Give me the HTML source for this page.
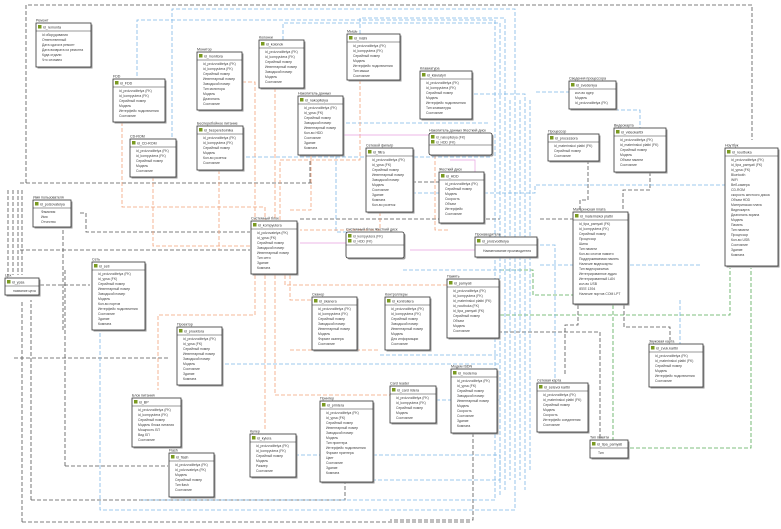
<!DOCTYPE html>
<html><head><meta charset="utf-8"><style>
html,body{margin:0;padding:0;background:#fff;}
svg{display:block;font-family:"Liberation Sans","DejaVu Sans",sans-serif;}
.b{fill:#fff;stroke:#333;stroke-width:0.8;}
.s{fill:#999;}
.h{stroke:#333;stroke-width:0.6;}
.t{font-size:3.6px;fill:#333;}
.f{font-size:3.4px;fill:#444;}
.k{fill:#7a9a20;}
.bk{stroke:#555;stroke-width:0.8;stroke-dasharray:4 2;fill:none;}
.bl{stroke:#7fb8e6;stroke-width:0.8;stroke-dasharray:4 2;fill:none;}
.or{stroke:#f2a27a;stroke-width:0.8;stroke-dasharray:4 2;fill:none;}
.gr{stroke:#55aa55;stroke-width:0.8;stroke-dasharray:4 2;fill:none;}
.pk{stroke:#e8a0e0;stroke-width:0.7;fill:none;}
</style></head><body>
<svg width="781" height="529" viewBox="0 0 781 529" xmlns="http://www.w3.org/2000/svg">
<!-- connectors -->
<path class="bk" d="M26 183 V5 H752 V140"/>
<path class="bk" d="M20 183 H312"/>
<path class="bk" d="M8 190 V275 M13 190 V275 M18 190 V275 M22 190 V275"/>
<path class="bk" d="M22 522 V300 M22 522 H470"/>
<path class="bk" d="M31 500 V300 M31 500 H345 V482"/>
<path class="bk" d="M14 358 H170"/>
<path class="bk" d="M40 285 H90"/>
<path class="bk" d="M65 466 V270 M65 466 H168"/>
<path class="bk" d="M80 213 H86 V232 H250"/>
<path class="bk" d="M20 250 H250"/>
<path class="bk" d="M63 230 V330"/>
<path class="bk" d="M310 183 V160"/>
<path class="bk" d="M300 219 H500"/>
<path class="bk" d="M400 182 H475"/>
<path class="bk" d="M540 219 H573"/>
<path class="bk" d="M474 332 H600 V440"/>
<path class="bk" d="M578 305 V325 H565 V375"/>
<path class="bk" d="M624 305 V327 H670 V340"/>
<path class="bk" d="M588 160 V200 H580 V210"/>
<path class="bk" d="M650 172 V190 H623 V210"/>
<path class="bk" d="M473 433 V520 H390"/>
<path class="gr" d="M613 305 V440"/>
<path class="gr" d="M630 448 H751 V268"/>
<path class="gr" d="M500 270 H533 V295 H573"/>
<path class="gr" d="M500 315 H730 V268"/>
<path class="bl" d="M137 76 V20 H495 V500 H140"/>
<path class="bl" d="M172 137 V9 H515 V510 H100 V320"/>
<path class="bl" d="M283 40 V23 H500 V495"/>
<path class="bl" d="M360 34 V18 H505 V490"/>
<path class="bl" d="M240 157 H490"/>
<path class="bl" d="M420 94 H525 V490"/>
<path class="bl" d="M510 100 V480 M520 100 V480 M530 100 V470"/>
<path class="bl" d="M340 123 H490"/>
<path class="bl" d="M406 193 H535 V185 H725"/>
<path class="bl" d="M536 92 H570"/>
<path class="bl" d="M615 110 H640 V128"/>
<path class="bl" d="M225 364 H500"/>
<path class="bl" d="M295 455 H500 V480 H320"/>
<path class="bl" d="M403 270 H520"/>
<path class="bl" d="M380 355 H500"/>
<path class="bl" d="M430 400 H500"/>
<path class="bl" d="M336 155 V232 H350 V243"/>
<path class="bl" d="M540 245 H555 V380"/>
<path class="bl" d="M540 265 H700"/>
<path class="bl" d="M680 300 V345"/>
<path class="or" d="M122 122 V207 H265 V220"/>
<path class="or" d="M153 177 V246 H250"/>
<path class="or" d="M218 82 H255 V220"/>
<path class="or" d="M219 170 V250"/>
<path class="or" d="M275 88 V220"/>
<path class="or" d="M283 88 H290"/>
<path class="or" d="M360 80 V160 H280 V220"/>
<path class="or" d="M311 155 V210 H290"/>
<path class="or" d="M380 212 V230 H300"/>
<path class="or" d="M255 275 V315 H158 V390"/>
<path class="or" d="M265 275 V430"/>
<path class="or" d="M275 275 V395 H390"/>
<path class="or" d="M285 275 V285 H450"/>
<path class="or" d="M290 275 V300 H312"/>
<path class="or" d="M290 350 H380"/>
<path class="or" d="M435 155 V230 H448"/>
<path class="pk" d="M342 135 H430 M450 160 H475 V180 M410 250 H475 M300 243 H346"/>
<!-- boxes -->
<g transform="translate(36,23)"><text class="t" x="0" y="-1.5">Ремонт</text><rect class="s" x="1.5" y="1.5" width="55" height="44"/><rect class="b" width="55" height="44"/><line class="h" x1="0" y1="8" x2="55" y2="8"/><rect class="k" x="2" y="2" width="3.5" height="3.5"/><text class="t" x="7" y="5.5">id_remonta</text><text class="f" x="6" y="13">id оборудования</text><text class="f" x="6" y="18">Ответственный</text><text class="f" x="6" y="23">Дата сдачи в ремонт</text><text class="f" x="6" y="28">Дата возврата из ремонта</text><text class="f" x="6" y="33">Куда отдали</text><text class="f" x="6" y="38">Что сломано</text></g>
<g transform="translate(113,79)"><text class="t" x="0" y="-1.5">FDD</text><rect class="s" x="1.5" y="1.5" width="52" height="43"/><rect class="b" width="52" height="43"/><line class="h" x1="0" y1="8" x2="52" y2="8"/><rect class="k" x="2" y="2" width="3.5" height="3.5"/><text class="t" x="7" y="5.5">id_FDD</text><text class="f" x="6" y="13">id_proizvoditelya (FK)</text><text class="f" x="6" y="18">id_kompyutera (FK)</text><text class="f" x="6" y="23">Серийный номер</text><text class="f" x="6" y="28">Модель</text><text class="f" x="6" y="33">Интерфейс подключения</text><text class="f" x="6" y="38">Состояние</text></g>
<g transform="translate(130,139)"><text class="t" x="0" y="-1.5">CD-ROM</text><rect class="s" x="1.5" y="1.5" width="46" height="38"/><rect class="b" width="46" height="38"/><line class="h" x1="0" y1="8" x2="46" y2="8"/><rect class="k" x="2" y="2" width="3.5" height="3.5"/><text class="t" x="7" y="5.5">id_CD-ROM</text><text class="f" x="6" y="13">id_proizvoditelya (FK)</text><text class="f" x="6" y="18">id_kompyutera (FK)</text><text class="f" x="6" y="23">Серийный номер</text><text class="f" x="6" y="28">Модель</text><text class="f" x="6" y="33">Состояние</text></g>
<g transform="translate(197,52)"><text class="t" x="0" y="-1.5">Монитор</text><rect class="s" x="1.5" y="1.5" width="45" height="58"/><rect class="b" width="45" height="58"/><line class="h" x1="0" y1="8" x2="45" y2="8"/><rect class="k" x="2" y="2" width="3.5" height="3.5"/><text class="t" x="7" y="5.5">id_monitora</text><text class="f" x="6" y="13">id_proizvoditelya (FK)</text><text class="f" x="6" y="18">id_kompyutera (FK)</text><text class="f" x="6" y="23">Серийный номер</text><text class="f" x="6" y="28">Инвентарный номер</text><text class="f" x="6" y="33">Заводской номер</text><text class="f" x="6" y="38">Тип монитора</text><text class="f" x="6" y="43">Модель</text><text class="f" x="6" y="48">Диагональ</text><text class="f" x="6" y="53">Состояние</text></g>
<g transform="translate(197,126)"><text class="t" x="0" y="-1.5">Бесперебойное питание</text><rect class="s" x="1.5" y="1.5" width="46" height="44"/><rect class="b" width="46" height="44"/><line class="h" x1="0" y1="8" x2="46" y2="8"/><rect class="k" x="2" y="2" width="3.5" height="3.5"/><text class="t" x="7" y="5.5">id_bespereboinika</text><text class="f" x="6" y="13">id_proizvoditelya (FK)</text><text class="f" x="6" y="18">id_kompyutera (FK)</text><text class="f" x="6" y="23">Серийный номер</text><text class="f" x="6" y="28">Модель</text><text class="f" x="6" y="33">Кол-во розеток</text><text class="f" x="6" y="38">Состояние</text></g>
<g transform="translate(259,40)"><text class="t" x="0" y="-1.5">Колонки</text><rect class="s" x="1.5" y="1.5" width="45" height="48"/><rect class="b" width="45" height="48"/><line class="h" x1="0" y1="8" x2="45" y2="8"/><rect class="k" x="2" y="2" width="3.5" height="3.5"/><text class="t" x="7" y="5.5">id_kolonok</text><text class="f" x="6" y="13">id_proizvoditelya (FK)</text><text class="f" x="6" y="18">id_kompyutera (FK)</text><text class="f" x="6" y="23">Серийный номер</text><text class="f" x="6" y="28">Инвентарный номер</text><text class="f" x="6" y="33">Заводской номер</text><text class="f" x="6" y="38">Модель</text><text class="f" x="6" y="43">Состояние</text></g>
<g transform="translate(347,34)"><text class="t" x="0" y="-1.5">Мышь</text><rect class="s" x="1.5" y="1.5" width="53" height="46"/><rect class="b" width="53" height="46"/><line class="h" x1="0" y1="8" x2="53" y2="8"/><rect class="k" x="2" y="2" width="3.5" height="3.5"/><text class="t" x="7" y="5.5">id_mishi</text><text class="f" x="6" y="13">id_proizvoditelya (FK)</text><text class="f" x="6" y="18">id_kompyutera (FK)</text><text class="f" x="6" y="23">Серийный номер</text><text class="f" x="6" y="28">Модель</text><text class="f" x="6" y="33">Интерфейс подключения</text><text class="f" x="6" y="38">Тип мыши</text><text class="f" x="6" y="43">Состояние</text></g>
<g transform="translate(420,71)"><text class="t" x="0" y="-1.5">Клавиатура</text><rect class="s" x="1.5" y="1.5" width="52" height="48"/><rect class="b" width="52" height="48"/><line class="h" x1="0" y1="8" x2="52" y2="8"/><rect class="k" x="2" y="2" width="3.5" height="3.5"/><text class="t" x="7" y="5.5">id_klaviatyri</text><text class="f" x="6" y="13">id_proizvoditelya (FK)</text><text class="f" x="6" y="18">id_kompyutera (FK)</text><text class="f" x="6" y="23">Серийный номер</text><text class="f" x="6" y="28">Модель</text><text class="f" x="6" y="33">Интерфейс подключения</text><text class="f" x="6" y="38">Тип клавиатуры</text><text class="f" x="6" y="43">Состояние</text></g>
<g transform="translate(298,96)"><text class="t" x="0" y="-1.5">Накопитель данных</text><rect class="s" x="1.5" y="1.5" width="45" height="59"/><rect class="b" width="45" height="59"/><line class="h" x1="0" y1="8" x2="45" y2="8"/><rect class="k" x="2" y="2" width="3.5" height="3.5"/><text class="t" x="7" y="5.5">id_nakopitelya</text><text class="f" x="6" y="13">id_proizvoditelya (FK)</text><text class="f" x="6" y="18">id_ypsa (FK)</text><text class="f" x="6" y="23">Серийный номер</text><text class="f" x="6" y="28">Заводской номер</text><text class="f" x="6" y="33">Инвентарный номер</text><text class="f" x="6" y="38">Кол-во HDD</text><text class="f" x="6" y="43">Состояние</text><text class="f" x="6" y="48">Здание</text><text class="f" x="6" y="53">Комната</text></g>
<g transform="translate(366,148)"><text class="t" x="0" y="-1.5">Сетевой фильтр</text><rect class="s" x="1.5" y="1.5" width="47" height="64"/><rect class="b" width="47" height="64"/><line class="h" x1="0" y1="8" x2="47" y2="8"/><rect class="k" x="2" y="2" width="3.5" height="3.5"/><text class="t" x="7" y="5.5">id_filtra</text><text class="f" x="6" y="13">id_proizvoditelya (FK)</text><text class="f" x="6" y="18">id_ypsa (FK)</text><text class="f" x="6" y="23">Серийный номер</text><text class="f" x="6" y="28">Инвентарный номер</text><text class="f" x="6" y="33">Заводской номер</text><text class="f" x="6" y="38">Модель</text><text class="f" x="6" y="43">Состояние</text><text class="f" x="6" y="48">Здание</text><text class="f" x="6" y="53">Комната</text><text class="f" x="6" y="58">Кол-во розеток</text></g>
<g transform="translate(429,133)"><text class="t" x="0" y="-1.5">Накопитель данных Жесткий диск</text><rect class="s" x="1.5" y="1.5" width="63" height="22" rx="2"/><rect class="b" width="63" height="22" rx="2"/><line class="h" x1="0" y1="12" x2="63" y2="12"/><rect class="k" x="2" y="2" width="3.5" height="3.5"/><rect class="k" x="2" y="7" width="3.5" height="3.5"/><text class="f" x="7" y="5.5">id_nakopitelya (FK)</text><text class="f" x="7" y="10.5">id_HDD (FK)</text></g>
<g transform="translate(439,172)"><text class="t" x="0" y="-1.5">Жесткий диск</text><rect class="s" x="1.5" y="1.5" width="45" height="51"/><rect class="b" width="45" height="51"/><line class="h" x1="0" y1="8" x2="45" y2="8"/><rect class="k" x="2" y="2" width="3.5" height="3.5"/><text class="t" x="7" y="5.5">id_HDD</text><text class="f" x="6" y="13">id_proizvoditelya (FK)</text><text class="f" x="6" y="18">Серийный номер</text><text class="f" x="6" y="23">Модель</text><text class="f" x="6" y="28">Скорость</text><text class="f" x="6" y="33">Объем</text><text class="f" x="6" y="38">Интерфейс</text><text class="f" x="6" y="43">Состояние</text></g>
<g transform="translate(251,221)"><text class="t" x="0" y="-1.5">Системный блок</text><rect class="s" x="1.5" y="1.5" width="46" height="53"/><rect class="b" width="46" height="53"/><line class="h" x1="0" y1="8" x2="46" y2="8"/><rect class="k" x="2" y="2" width="3.5" height="3.5"/><text class="t" x="7" y="5.5">id_kompyutera</text><text class="f" x="6" y="13">id_polzovatelya (FK)</text><text class="f" x="6" y="18">id_ypsa (FK)</text><text class="f" x="6" y="23">Серийный номер</text><text class="f" x="6" y="28">Заводской номер</text><text class="f" x="6" y="33">Инвентарный номер</text><text class="f" x="6" y="38">Тип сети</text><text class="f" x="6" y="43">Здание</text><text class="f" x="6" y="48">Комната</text></g>
<g transform="translate(346,232)"><text class="t" x="0" y="-1.5">Системный блок Жесткий диск</text><rect class="s" x="1.5" y="1.5" width="58" height="26" rx="2"/><rect class="b" width="58" height="26" rx="2"/><line class="h" x1="0" y1="13" x2="58" y2="13"/><rect class="k" x="2" y="2" width="3.5" height="3.5"/><rect class="k" x="2" y="7" width="3.5" height="3.5"/><text class="f" x="7" y="5.5">id_kompyutera (FK)</text><text class="f" x="7" y="10.5">id_HDD (FK)</text></g>
<g transform="translate(475,237)"><text class="t" x="0" y="-1.5">Производитель</text><rect class="s" x="1.5" y="1.5" width="62" height="20"/><rect class="b" width="62" height="20"/><line class="h" x1="0" y1="8" x2="62" y2="8"/><rect class="k" x="2" y="2" width="3.5" height="3.5"/><text class="t" x="7" y="5.5">id_proizvoditelya</text><text class="f" x="8" y="15">Наименование производителя</text></g>
<g transform="translate(33,200)"><text class="t" x="0" y="-1.5">Имя пользователя</text><rect class="s" x="1.5" y="1.5" width="38" height="27"/><rect class="b" width="38" height="27"/><line class="h" x1="0" y1="8" x2="38" y2="8"/><rect class="k" x="2" y="2" width="3.5" height="3.5"/><text class="t" x="7" y="5.5">id_polzovatelya</text><text class="f" x="8" y="13">Фамилия</text><text class="f" x="8" y="18">Имя</text><text class="f" x="8" y="23">Отчество</text></g>
<g transform="translate(5,278)"><text class="t" x="0" y="-1.5">Цех</text><rect class="s" x="1.5" y="1.5" width="34" height="17"/><rect class="b" width="34" height="17"/><line class="h" x1="0" y1="8" x2="34" y2="8"/><rect class="k" x="2" y="2" width="3.5" height="3.5"/><text class="t" x="7" y="5.5">id_ypsa</text><text class="f" x="8" y="14">название цеха</text></g>
<g transform="translate(92,262)"><text class="t" x="0" y="-1.5">Сеть</text><rect class="s" x="1.5" y="1.5" width="53" height="68"/><rect class="b" width="53" height="68"/><line class="h" x1="0" y1="8" x2="53" y2="8"/><rect class="k" x="2" y="2" width="3.5" height="3.5"/><text class="t" x="7" y="5.5">id_seti</text><text class="f" x="6" y="13">id_proizvoditelya (FK)</text><text class="f" x="6" y="18">id_ypsa (FK)</text><text class="f" x="6" y="23">Серийный номер</text><text class="f" x="6" y="28">Инвентарный номер</text><text class="f" x="6" y="33">Заводской номер</text><text class="f" x="6" y="38">Модель</text><text class="f" x="6" y="43">Кол-во портов</text><text class="f" x="6" y="48">Интерфейс подключения</text><text class="f" x="6" y="53">Состояние</text><text class="f" x="6" y="58">Здание</text><text class="f" x="6" y="63">Комната</text></g>
<g transform="translate(177,327)"><text class="t" x="0" y="-1.5">Проектор</text><rect class="s" x="1.5" y="1.5" width="45" height="58"/><rect class="b" width="45" height="58"/><line class="h" x1="0" y1="8" x2="45" y2="8"/><rect class="k" x="2" y="2" width="3.5" height="3.5"/><text class="t" x="7" y="5.5">id_proektora</text><text class="f" x="6" y="13">id_proizvoditelya (FK)</text><text class="f" x="6" y="18">id_ypsa (FK)</text><text class="f" x="6" y="23">Серийный номер</text><text class="f" x="6" y="28">Инвентарный номер</text><text class="f" x="6" y="33">Заводской номер</text><text class="f" x="6" y="38">Модель</text><text class="f" x="6" y="43">Состояние</text><text class="f" x="6" y="48">Здание</text><text class="f" x="6" y="53">Комната</text></g>
<g transform="translate(132,398)"><text class="t" x="0" y="-1.5">Блок питания</text><rect class="s" x="1.5" y="1.5" width="49" height="49"/><rect class="b" width="49" height="49"/><line class="h" x1="0" y1="8" x2="49" y2="8"/><rect class="k" x="2" y="2" width="3.5" height="3.5"/><text class="t" x="7" y="5.5">id_BP</text><text class="f" x="6" y="13">id_proizvoditelya (FK)</text><text class="f" x="6" y="18">id_kompyutera (FK)</text><text class="f" x="6" y="23">Серийный номер</text><text class="f" x="6" y="28">Модель блока питания</text><text class="f" x="6" y="33">Мощность БП</text><text class="f" x="6" y="38">Вид БП</text><text class="f" x="6" y="43">Состояние</text></g>
<g transform="translate(169,453)"><text class="t" x="0" y="-1.5">Flash</text><rect class="s" x="1.5" y="1.5" width="45" height="44"/><rect class="b" width="45" height="44"/><line class="h" x1="0" y1="8" x2="45" y2="8"/><rect class="k" x="2" y="2" width="3.5" height="3.5"/><text class="t" x="7" y="5.5">id_flash</text><text class="f" x="6" y="13">id_proizvoditelya (FK)</text><text class="f" x="6" y="18">id_polzovatelya (FK)</text><text class="f" x="6" y="23">Модель</text><text class="f" x="6" y="28">Серийный номер</text><text class="f" x="6" y="33">Тип flash</text><text class="f" x="6" y="38">Состояние</text></g>
<g transform="translate(312,297)"><text class="t" x="0" y="-1.5">Сканер</text><rect class="s" x="1.5" y="1.5" width="45" height="53"/><rect class="b" width="45" height="53"/><line class="h" x1="0" y1="8" x2="45" y2="8"/><rect class="k" x="2" y="2" width="3.5" height="3.5"/><text class="t" x="7" y="5.5">id_skanera</text><text class="f" x="6" y="13">id_proizvoditelya (FK)</text><text class="f" x="6" y="18">id_kompyutera (FK)</text><text class="f" x="6" y="23">Серийный номер</text><text class="f" x="6" y="28">Заводской номер</text><text class="f" x="6" y="33">Инвентарный номер</text><text class="f" x="6" y="38">Модель</text><text class="f" x="6" y="43">Формат сканера</text><text class="f" x="6" y="48">Состояние</text></g>
<g transform="translate(385,297)"><text class="t" x="0" y="-1.5">Контроллеры</text><rect class="s" x="1.5" y="1.5" width="45" height="53"/><rect class="b" width="45" height="53"/><line class="h" x1="0" y1="8" x2="45" y2="8"/><rect class="k" x="2" y="2" width="3.5" height="3.5"/><text class="t" x="7" y="5.5">id_kontrollera</text><text class="f" x="6" y="13">id_proizvoditelya (FK)</text><text class="f" x="6" y="18">id_kompyutera (FK)</text><text class="f" x="6" y="23">Серийный номер</text><text class="f" x="6" y="28">Заводской номер</text><text class="f" x="6" y="33">Инвентарный номер</text><text class="f" x="6" y="38">Модель</text><text class="f" x="6" y="43">Для информации</text><text class="f" x="6" y="48">Состояние</text></g>
<g transform="translate(447,279)"><text class="t" x="0" y="-1.5">Память</text><rect class="s" x="1.5" y="1.5" width="52" height="59"/><rect class="b" width="52" height="59"/><line class="h" x1="0" y1="8" x2="52" y2="8"/><rect class="k" x="2" y="2" width="3.5" height="3.5"/><text class="t" x="7" y="5.5">id_pamyati</text><text class="f" x="6" y="13">id_proizvoditelya (FK)</text><text class="f" x="6" y="18">id_kompyutera (FK)</text><text class="f" x="6" y="23">id_materinskoi platbi (FK)</text><text class="f" x="6" y="28">id_noutbuka (FK)</text><text class="f" x="6" y="33">id_tipa_pamyati (FK)</text><text class="f" x="6" y="38">Серийный номер</text><text class="f" x="6" y="43">Объем</text><text class="f" x="6" y="48">Модель</text><text class="f" x="6" y="53">Состояние</text></g>
<g transform="translate(451,369)"><text class="t" x="0" y="-1.5">Модем ISDN</text><rect class="s" x="1.5" y="1.5" width="46" height="64"/><rect class="b" width="46" height="64"/><line class="h" x1="0" y1="8" x2="46" y2="8"/><rect class="k" x="2" y="2" width="3.5" height="3.5"/><text class="t" x="7" y="5.5">id_modema</text><text class="f" x="6" y="13">id_proizvoditelya (FK)</text><text class="f" x="6" y="18">id_ypsa (FK)</text><text class="f" x="6" y="23">Серийный номер</text><text class="f" x="6" y="28">Заводской номер</text><text class="f" x="6" y="33">Инвентарный номер</text><text class="f" x="6" y="38">Модель</text><text class="f" x="6" y="43">Скорость</text><text class="f" x="6" y="48">Состояние</text><text class="f" x="6" y="53">Здание</text><text class="f" x="6" y="58">Комната</text></g>
<g transform="translate(390,386)"><text class="t" x="0" y="-1.5">Card reader</text><rect class="s" x="1.5" y="1.5" width="46" height="37"/><rect class="b" width="46" height="37"/><line class="h" x1="0" y1="8" x2="46" y2="8"/><rect class="k" x="2" y="2" width="3.5" height="3.5"/><text class="t" x="7" y="5.5">id_card ridera</text><text class="f" x="6" y="13">id_proizvoditelya (FK)</text><text class="f" x="6" y="18">id_kompyutera (FK)</text><text class="f" x="6" y="23">Серийный номер</text><text class="f" x="6" y="28">Модель</text><text class="f" x="6" y="33">Состояние</text></g>
<g transform="translate(320,401)"><text class="t" x="0" y="-1.5">Принтер</text><rect class="s" x="1.5" y="1.5" width="53" height="81"/><rect class="b" width="53" height="81"/><line class="h" x1="0" y1="8" x2="53" y2="8"/><rect class="k" x="2" y="2" width="3.5" height="3.5"/><text class="t" x="7" y="5.5">id_printera</text><text class="f" x="6" y="13">id_proizvoditelya (FK)</text><text class="f" x="6" y="18">id_ypsa (FK)</text><text class="f" x="6" y="23">Серийный номер</text><text class="f" x="6" y="28">Инвентарный номер</text><text class="f" x="6" y="33">Заводской номер</text><text class="f" x="6" y="38">Модель</text><text class="f" x="6" y="43">Тип принтера</text><text class="f" x="6" y="48">Интерфейс подключения</text><text class="f" x="6" y="53">Формат принтера</text><text class="f" x="6" y="58">Цвет</text><text class="f" x="6" y="63">Состояние</text><text class="f" x="6" y="68">Здание</text><text class="f" x="6" y="73">Комната</text></g>
<g transform="translate(250,434)"><text class="t" x="0" y="-1.5">Кулер</text><rect class="s" x="1.5" y="1.5" width="46" height="43"/><rect class="b" width="46" height="43"/><line class="h" x1="0" y1="8" x2="46" y2="8"/><rect class="k" x="2" y="2" width="3.5" height="3.5"/><text class="t" x="7" y="5.5">id_kylera</text><text class="f" x="6" y="13">id_proizvoditelya (FK)</text><text class="f" x="6" y="18">id_kompyutera (FK)</text><text class="f" x="6" y="23">Серийный номер</text><text class="f" x="6" y="28">Модель</text><text class="f" x="6" y="33">Размер</text><text class="f" x="6" y="38">Состояние</text></g>
<g transform="translate(537,383)"><text class="t" x="0" y="-1.5">Сетевая карта</text><rect class="s" x="1.5" y="1.5" width="51" height="49"/><rect class="b" width="51" height="49"/><line class="h" x1="0" y1="8" x2="51" y2="8"/><rect class="k" x="2" y="2" width="3.5" height="3.5"/><text class="t" x="7" y="5.5">id_setevoi kartbi</text><text class="f" x="6" y="13">id_proizvoditelya (FK)</text><text class="f" x="6" y="18">id_materinskoi platbi (FK)</text><text class="f" x="6" y="23">Серийный номер</text><text class="f" x="6" y="28">Модель</text><text class="f" x="6" y="33">Скорость</text><text class="f" x="6" y="38">Интерфейс соединения</text><text class="f" x="6" y="43">Состояние</text></g>
<g transform="translate(590,440)"><text class="t" x="0" y="-1.5">Тип памяти</text><rect class="s" x="1.5" y="1.5" width="38" height="18"/><rect class="b" width="38" height="18"/><line class="h" x1="0" y1="8" x2="38" y2="8"/><rect class="k" x="2" y="2" width="3.5" height="3.5"/><text class="t" x="7" y="5.5">id_tipa_pamyati</text><text class="f" x="8" y="14">Тип</text></g>
<g transform="translate(649,344)"><text class="t" x="0" y="-1.5">Звуковая карта</text><rect class="s" x="1.5" y="1.5" width="54" height="43"/><rect class="b" width="54" height="43"/><line class="h" x1="0" y1="8" x2="54" y2="8"/><rect class="k" x="2" y="2" width="3.5" height="3.5"/><text class="t" x="7" y="5.5">id_zvuk.kartbi</text><text class="f" x="6" y="13">id_proizvoditelya (FK)</text><text class="f" x="6" y="18">id_materinskoi platbi (FK)</text><text class="f" x="6" y="23">Серийный номер</text><text class="f" x="6" y="28">Модель</text><text class="f" x="6" y="33">Интерфейс подключения</text><text class="f" x="6" y="38">Состояние</text></g>
<g transform="translate(573,212)"><text class="t" x="0" y="-1.5">Материнская плата</text><rect class="s" x="1.5" y="1.5" width="55" height="92"/><rect class="b" width="55" height="92"/><line class="h" x1="0" y1="8" x2="55" y2="8"/><rect class="k" x="2" y="2" width="3.5" height="3.5"/><text class="t" x="7" y="5.5">id_materinskoi platbi</text><text class="f" x="6" y="13">id_tipa_pamyati (FK)</text><text class="f" x="6" y="18">id_kompyutera (FK)</text><text class="f" x="6" y="23">Серийный номер</text><text class="f" x="6" y="28">Процессор</text><text class="f" x="6" y="33">Шина</text><text class="f" x="6" y="38">Тип памяти</text><text class="f" x="6" y="43">Кол-во слотов памяти</text><text class="f" x="6" y="48">Поддерживаемая память</text><text class="f" x="6" y="53">Наличие видеокарты</text><text class="f" x="6" y="58">Тип видеоразъема</text><text class="f" x="6" y="63">Интегрированное аудио</text><text class="f" x="6" y="68">Интегрированный LAN</text><text class="f" x="6" y="73">кол-во USB</text><text class="f" x="6" y="78">IEEE 1394</text><text class="f" x="6" y="83">Наличие портов COM LPT</text></g>
<g transform="translate(548,134)"><text class="t" x="0" y="-1.5">Процессор</text><rect class="s" x="1.5" y="1.5" width="51" height="27"/><rect class="b" width="51" height="27"/><line class="h" x1="0" y1="8" x2="51" y2="8"/><rect class="k" x="2" y="2" width="3.5" height="3.5"/><text class="t" x="7" y="5.5">id_processora</text><text class="f" x="6" y="13">id_materinskoi platbi (FK)</text><text class="f" x="6" y="18">Серийный номер</text><text class="f" x="6" y="23">Состояние</text></g>
<g transform="translate(614,128)"><text class="t" x="0" y="-1.5">Видеокарта</text><rect class="s" x="1.5" y="1.5" width="52" height="44"/><rect class="b" width="52" height="44"/><line class="h" x1="0" y1="8" x2="52" y2="8"/><rect class="k" x="2" y="2" width="3.5" height="3.5"/><text class="t" x="7" y="5.5">id_videokartbi</text><text class="f" x="6" y="13">id_proizvoditelya (FK)</text><text class="f" x="6" y="18">id_materinskoi platbi (FK)</text><text class="f" x="6" y="23">Серийный номер</text><text class="f" x="6" y="28">Модель</text><text class="f" x="6" y="33">Объем памяти</text><text class="f" x="6" y="38">Состояние</text></g>
<g transform="translate(569,81)"><text class="t" x="0" y="-1.5">Сведения процессора</text><rect class="s" x="1.5" y="1.5" width="47" height="28"/><rect class="b" width="47" height="28"/><line class="h" x1="0" y1="8" x2="47" y2="8"/><rect class="k" x="2" y="2" width="3.5" height="3.5"/><text class="t" x="7" y="5.5">id_svedeniya</text><text class="f" x="6" y="13">кол-во ядер</text><text class="f" x="6" y="18">Модель</text><text class="f" x="6" y="23">id_proizvoditelya (FK)</text></g>
<g transform="translate(725,148)"><text class="t" x="0" y="-1.5">Ноутбук</text><rect class="s" x="1.5" y="1.5" width="53" height="118"/><rect class="b" width="53" height="118"/><line class="h" x1="0" y1="8" x2="53" y2="8"/><rect class="k" x="2" y="2" width="3.5" height="3.5"/><text class="t" x="7" y="5.5">id_noutbuka</text><text class="f" x="6" y="13">id_proizvoditelya (FK)</text><text class="f" x="6" y="18">id_tipa_pamyati (FK)</text><text class="f" x="6" y="23">id_ypsa (FK)</text><text class="f" x="6" y="28">Bluetooth</text><text class="f" x="6" y="33">WiFi</text><text class="f" x="6" y="38">Веб-камера</text><text class="f" x="6" y="43">CD-ROM</text><text class="f" x="6" y="48">скорость жесткого диска</text><text class="f" x="6" y="53">Объем HDD</text><text class="f" x="6" y="58">Материнская плата</text><text class="f" x="6" y="63">Видеокарта</text><text class="f" x="6" y="68">Диагональ экрана</text><text class="f" x="6" y="73">Модель</text><text class="f" x="6" y="78">Память</text><text class="f" x="6" y="83">Тип памяти</text><text class="f" x="6" y="88">Процессор</text><text class="f" x="6" y="93">Кол-во USB</text><text class="f" x="6" y="98">Состояние</text><text class="f" x="6" y="103">Здание</text><text class="f" x="6" y="108">Комната</text></g>
</svg>
</body></html>
